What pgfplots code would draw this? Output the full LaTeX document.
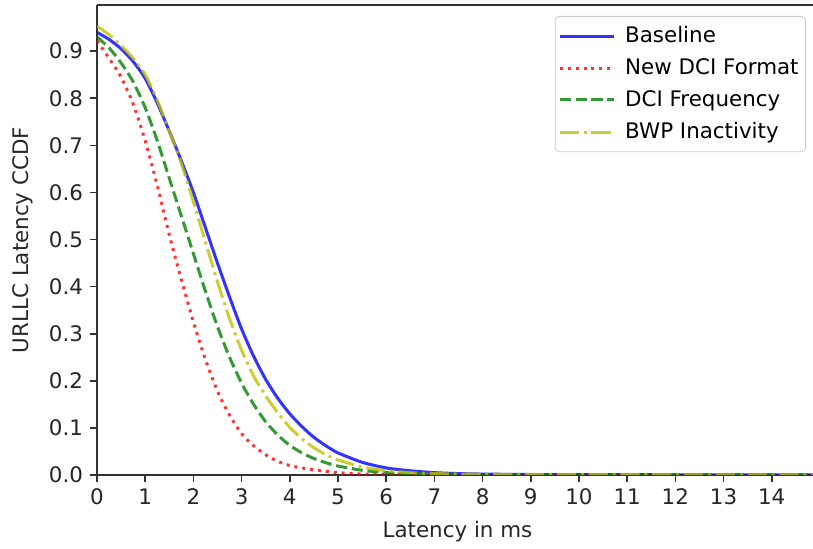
\documentclass[border=0pt]{standalone}
\usepackage{fontspec}
\setmainfont{DejaVu Sans}
\usepackage{pgfplots}
\pgfplotsset{compat=1.18}
\definecolor{mplyellow}{rgb}{0.75,0.75,0}
\definecolor{mplgreen}{rgb}{0,0.5,0}
\definecolor{spine}{gray}{0.2}
\begin{document}
\begin{tikzpicture}
\useasboundingbox (-48.5pt,-37pt) rectangle (358pt,237.5pt);
\begin{axis}[
  scale only axis, width=360.5pt, height=235pt,
  xmin=0, xmax=14.96, ymin=0, ymax=0.998,
  axis x line*=bottom, axis y line*=left,
  axis line style={line width=0.8pt, spine},
  xtick={0,1,2,3,4,5,6,7,8,9,10,11,12,13,14},
  ytick={0,0.1,0.2,0.3,0.4,0.5,0.6,0.7,0.8,0.9},
  tick align=outside, major tick length=3.5pt,
  tick style={line width=0.8pt, spine},
  yticklabel style={/pgf/number format/.cd, fixed, fixed zerofill, precision=1},
  /pgf/number format/assume math mode=true,
  ticklabel style={font=\fontsize{10.7}{12.8}\selectfont, text=black!85},
  xlabel={Latency in ms}, ylabel={URLLC Latency CCDF},
  xlabel style={yshift=-1pt},
  ylabel style={yshift=1pt},
  label style={font=\fontsize{10.7}{12.8}\selectfont, text=black!85},
  legend cell align=left,
  legend image code/.code={\draw[#1] (0pt,0pt) -- (27pt,0pt);},
  legend style={at={(1,1)}, anchor=north east, xshift=-6pt, yshift=-5.5pt,
    draw=black!20, rounded corners=2pt, fill=white, fill opacity=0.8, text opacity=1,
    font=\fontsize{10.7}{12.8}\selectfont, row sep=2.5pt, inner xsep=1.5pt, inner ysep=3pt,
    /tikz/every odd column/.append style={column sep=3pt}},
]
\addplot[blue, opacity=0.8, line width=1.5pt, smooth, tension=0.4] coordinates {
(0,0.94)(0.25,0.925)(0.5,0.905)(0.75,0.878)(1,0.842)(1.25,0.79)(1.5,0.73)(1.75,0.667)(2,0.60)(2.25,0.525)(2.5,0.45)(2.75,0.378)(3,0.31)(3.25,0.252)(3.5,0.203)(3.75,0.163)(4,0.13)(4.25,0.103)(4.5,0.08)(4.75,0.062)(5,0.047)(5.5,0.027)(6,0.015)(6.5,0.009)(7,0.005)(7.5,0.003)(8,0.002)(9,0.001)(10,0.0008)(12,0.0005)(14.96,0.0003)};
\addlegendentry{Baseline}
\addplot[red, opacity=0.8, line width=1.5pt, dash pattern=on 1.5pt off 2.475pt, smooth, tension=0.4] coordinates {
(0,0.922)(0.25,0.885)(0.5,0.845)(0.75,0.788)(1,0.71)(1.25,0.615)(1.5,0.51)(1.75,0.415)(2,0.325)(2.25,0.245)(2.5,0.178)(2.75,0.127)(3,0.088)(3.25,0.062)(3.5,0.043)(3.75,0.029)(4,0.02)(4.25,0.015)(4.5,0.011)(5,0.005)(5.5,0.002)(6,0.001)(7,0.0005)(14.96,0.0002)};
\addlegendentry{New DCI Format}
\addplot[mplgreen, opacity=0.8, line width=1.5pt, dash pattern=on 5.55pt off 2.4pt, smooth, tension=0.4] coordinates {
(0,0.93)(0.25,0.907)(0.5,0.875)(0.75,0.835)(1,0.78)(1.25,0.71)(1.5,0.63)(1.75,0.55)(2,0.47)(2.25,0.39)(2.5,0.315)(2.75,0.25)(3,0.195)(3.25,0.15)(3.5,0.113)(3.75,0.085)(4,0.063)(4.25,0.047)(4.5,0.035)(4.75,0.026)(5,0.019)(5.5,0.01)(6,0.005)(6.5,0.003)(7,0.002)(8,0.001)(10,0.0005)(14.96,0.0003)};
\addlegendentry{DCI Frequency}
\addplot[mplyellow, opacity=0.8, line width=1.5pt, dash pattern=on 9.6pt off 2.4pt on 1.5pt off 2.4pt, smooth, tension=0.4] coordinates {
(0,0.953)(0.25,0.935)(0.5,0.912)(0.75,0.885)(1,0.85)(1.25,0.796)(1.5,0.73)(1.75,0.662)(2,0.58)(2.25,0.495)(2.5,0.41)(2.75,0.332)(3,0.265)(3.25,0.21)(3.5,0.168)(3.75,0.132)(4,0.101)(4.25,0.077)(4.5,0.058)(4.75,0.043)(5,0.032)(5.5,0.017)(6,0.009)(6.5,0.005)(7,0.003)(8,0.0015)(9,0.001)(12,0.0005)(14.96,0.0003)};
\addlegendentry{BWP Inactivity}
\draw[line width=0.8pt, spine] (rel axis cs:0,1) -- (rel axis cs:1,1);
\end{axis}
\end{tikzpicture}
\end{document}
